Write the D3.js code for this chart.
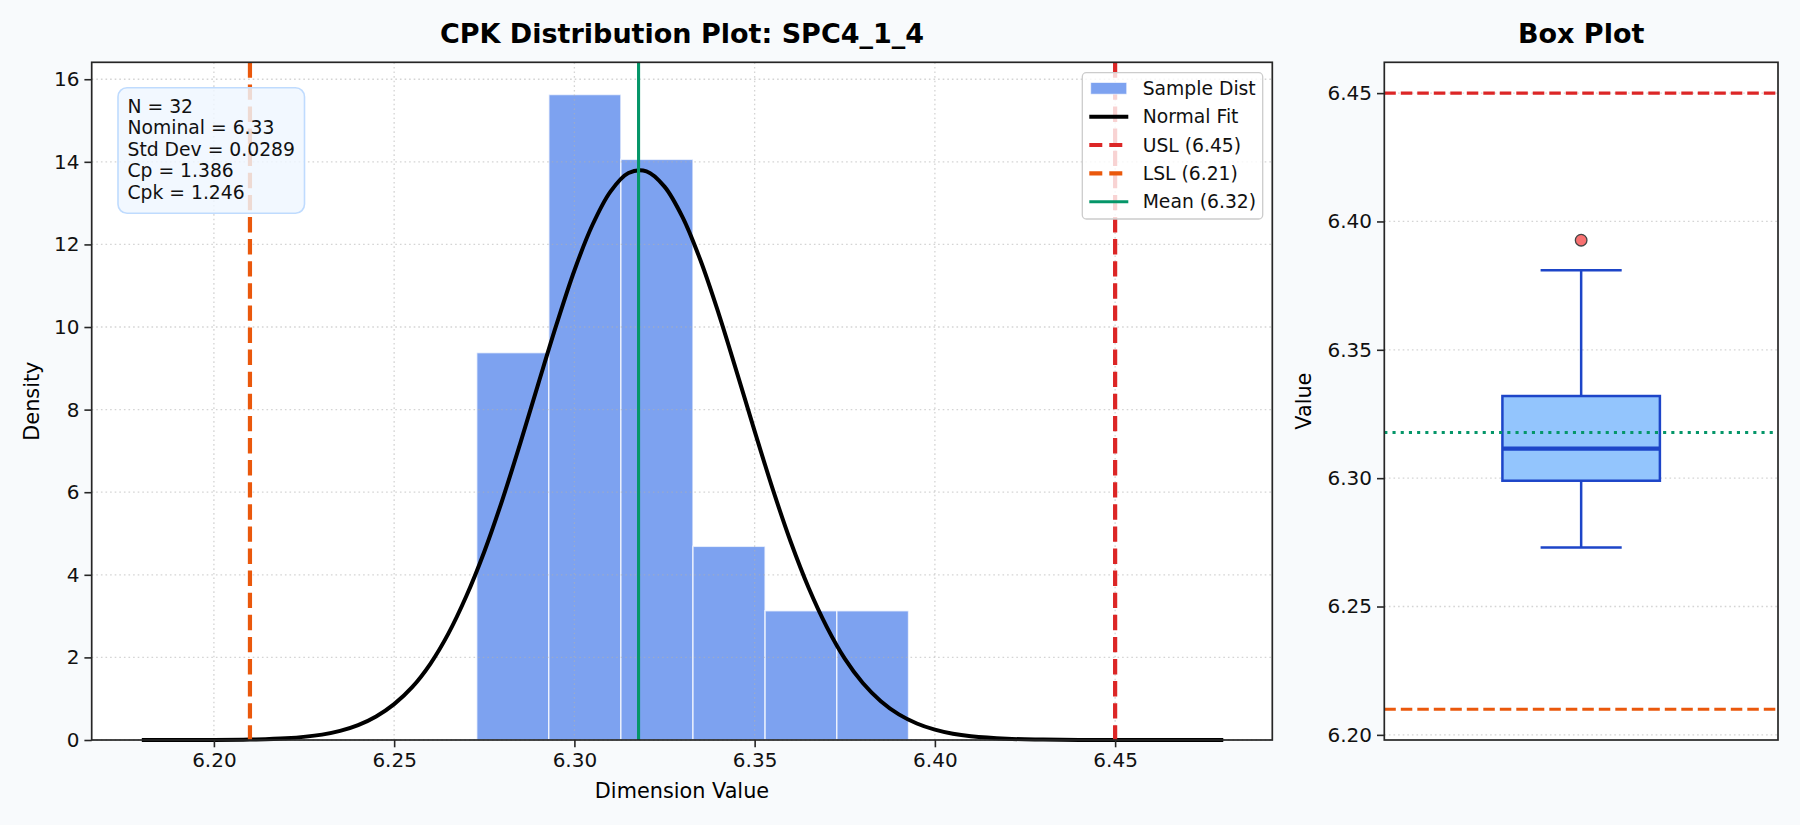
<!DOCTYPE html>
<html>
<head>
<meta charset="utf-8">
<script src="https://cdn.jsdelivr.net/npm/d3@7"></script>
<style>
  html, body { margin: 0; padding: 0; background: #f8fafc; }
  svg { display: block; font-family: "DejaVu Sans", sans-serif; }
</style>
</head>
<body>
<div id="chart"></div>
<script>
// ---- data ----
var binEdges = [6.2729, 6.2929, 6.3129, 6.3329, 6.3529, 6.3728, 6.3927];
var binDensity = [9.38, 15.63, 14.06, 4.69, 3.13, 3.13];

// normal fit curve, sampled densely so it stays smooth
var fitX = [6.18, 6.19, 6.20, 6.21, 6.22, 6.23, 6.235, 6.24, 6.245, 6.25, 6.255,
            6.26, 6.265, 6.27, 6.275, 6.28, 6.285, 6.29, 6.295, 6.30, 6.305,
            6.31, 6.315, 6.32, 6.325, 6.33, 6.335, 6.34, 6.345, 6.35, 6.355,
            6.36, 6.365, 6.37, 6.375, 6.38, 6.385, 6.39, 6.395, 6.40, 6.405,
            6.41, 6.42, 6.43, 6.44, 6.45, 6.46, 6.47, 6.48];
var fitY = [0.00, 0.00, 0.00, 0.01, 0.04, 0.13, 0.22, 0.36, 0.57, 0.87, 1.28,
            1.84, 2.57, 3.48, 4.56, 5.81, 7.19, 8.63, 10.05, 11.37, 12.47,
            13.28, 13.73, 13.77, 13.40, 12.66, 11.61, 10.33, 8.92, 7.48, 6.08,
            4.80, 3.68, 2.74, 1.97, 1.38, 0.94, 0.62, 0.40, 0.25, 0.15,
            0.09, 0.03, 0.01, 0.00, 0.00, 0.00, 0.00, 0.00];

var usl = 6.45, lsl = 6.21, meanValue = 6.3178;
var statLines = ["N = 32", "Nominal = 6.33", "Std Dev = 0.0289", "Cp = 1.386", "Cpk = 1.246"];

var boxQuartiles = [6.299, 6.3115, 6.332];   // q1, median, q3
var boxWhiskers = [6.273, 6.381];
var boxOutliers = [6.3927];

var xTicks = [6.20, 6.25, 6.30, 6.35, 6.40, 6.45];
var yTicks = [0, 2, 4, 6, 8, 10, 12, 14, 16];
var boxTicks = [6.20, 6.25, 6.30, 6.35, 6.40, 6.45];

// ---- layout ----
var width = 1800, height = 825;
var plotTop = 62.3, plotBottom = 740;
var main = {left: 91.7, right: 1272.3};
var side = {left: 1384.3, right: 1778};

var colors = {
  bar: '#7da2f0', fit: '#000000', usl: '#dc2626', lsl: '#ea580c',
  mean: '#059669', box: '#93c5fd', boxEdge: '#1d45c8', outlier: '#f87171'
};

var svg = d3.select('#chart').append('svg')
  .attr('width', width)
  .attr('height', height);

svg.append('rect')
  .attr('width', width).attr('height', height)
  .attr('fill', '#f8fafc');

var x = d3.scaleLinear().domain([6.1661, 6.4936]).range([main.left, main.right]);
var y = d3.scaleLinear().domain([0, 16.41]).range([plotBottom, plotTop]);
var by = d3.scaleLinear().domain([6.198, 6.462]).range([plotBottom, plotTop]);
var bx = d3.scaleLinear().domain([0.5, 1.5]).range([side.left, side.right]);

function gridStyle(sel) {
  sel.attr('stroke', '#b0b0b0').attr('stroke-opacity', 0.55)
    .attr('stroke-width', 1.3).attr('stroke-dasharray', '1.6,3');
}

// ================= main histogram panel =================
var g = svg.append('g');

g.append('rect')
  .attr('x', main.left).attr('y', plotTop)
  .attr('width', main.right - main.left).attr('height', plotBottom - plotTop)
  .attr('fill', '#ffffff');

g.selectAll('rect.bar')
  .data(binDensity)
  .enter().append('rect')
  .attr('class', 'bar')
  .attr('x', function(d, i) { return x(binEdges[i]); })
  .attr('width', function(d, i) { return x(binEdges[i + 1]) - x(binEdges[i]); })
  .attr('y', function(d) { return y(d); })
  .attr('height', function(d) { return y(0) - y(d); })
  .attr('fill', colors.bar)
  .attr('stroke', '#ffffff').attr('stroke-opacity', 0.7)
  .attr('stroke-width', 1.5);

// grid sits over the bars, under the lines
g.selectAll('line.vgrid').data(xTicks).enter().append('line')
  .attr('x1', function(d) { return x(d); }).attr('x2', function(d) { return x(d); })
  .attr('y1', plotTop).attr('y2', plotBottom)
  .call(gridStyle);
g.selectAll('line.hgrid').data(yTicks).enter().append('line')
  .attr('x1', main.left).attr('x2', main.right)
  .attr('y1', function(d) { return y(d); }).attr('y2', function(d) { return y(d); })
  .call(gridStyle);

var fitLine = d3.line()
  .x(function(d, i) { return x(fitX[i]); })
  .y(function(d) { return y(d); })
  .curve(d3.curveCatmullRom);

g.append('path')
  .datum(fitY)
  .attr('d', fitLine)
  .attr('fill', 'none')
  .attr('stroke', colors.fit)
  .attr('stroke-width', 4);

g.append('line')
  .attr('x1', x(usl)).attr('x2', x(usl)).attr('y1', plotTop).attr('y2', plotBottom)
  .attr('stroke', colors.usl).attr('stroke-width', 4.2)
  .attr('stroke-dasharray', '15.4,6.7');
g.append('line')
  .attr('x1', x(lsl)).attr('x2', x(lsl)).attr('y1', plotTop).attr('y2', plotBottom)
  .attr('stroke', colors.lsl).attr('stroke-width', 4.2)
  .attr('stroke-dasharray', '15.4,6.7');
g.append('line')
  .attr('x1', x(meanValue)).attr('x2', x(meanValue)).attr('y1', plotTop).attr('y2', plotBottom)
  .attr('stroke', colors.mean).attr('stroke-width', 3.1);

// axes
var xAxis = d3.axisBottom(x).tickValues(xTicks).tickFormat(d3.format('.2f'))
  .tickSize(7.3).tickPadding(5);
var yAxis = d3.axisLeft(y).tickValues(yTicks).tickFormat(d3.format('d'))
  .tickSize(7.3).tickPadding(5);

g.append('g').attr('transform', 'translate(0,' + plotBottom + ')').call(xAxis);
g.append('g').attr('transform', 'translate(' + main.left + ',0)').call(yAxis);

g.append('rect')
  .attr('x', main.left).attr('y', plotTop)
  .attr('width', main.right - main.left).attr('height', plotBottom - plotTop)
  .attr('fill', 'none').attr('stroke', '#262626').attr('stroke-width', 1.7);

// stats box
var stats = g.append('g');
stats.append('rect')
  .attr('x', 118).attr('y', 87.7)
  .attr('width', 186.5).attr('height', 125.5)
  .attr('rx', 9).attr('ry', 9)
  .attr('fill', '#eff6ff').attr('fill-opacity', 0.82)
  .attr('stroke', '#bfdbfe').attr('stroke-width', 1.6);
stats.append('text')
  .attr('font-size', 18.75)
  .attr('fill', '#111')
  .selectAll('tspan')
  .data(statLines)
  .enter().append('tspan')
  .attr('x', 127.5)
  .attr('y', function(d, i) { return 112.5 + i * 21.6; })
  .text(function(d) { return d; });

// legend
var legendItems = [
  {label: 'Sample Dist', type: 'patch', color: colors.bar},
  {label: 'Normal Fit', type: 'line', color: colors.fit, w: 4, dash: null},
  {label: 'USL (6.45)', type: 'line', color: colors.usl, w: 4.2, dash: '13,7'},
  {label: 'LSL (6.21)', type: 'line', color: colors.lsl, w: 4.2, dash: '13,7'},
  {label: 'Mean (6.32)', type: 'line', color: colors.mean, w: 3.1, dash: null}
];
var leg = g.append('g');
leg.append('rect')
  .attr('x', 1082.3).attr('y', 72.7)
  .attr('width', 180.4).attr('height', 146.3)
  .attr('rx', 4).attr('ry', 4)
  .attr('fill', '#ffffff').attr('fill-opacity', 0.8)
  .attr('stroke', '#cccccc').attr('stroke-width', 1.3);
var rows = leg.selectAll('g.row').data(legendItems).enter().append('g')
  .attr('transform', function(d, i) { return 'translate(0,' + (88.3 + i * 28.35) + ')'; });
rows.each(function(d) {
  var r = d3.select(this);
  if (d.type === 'patch') {
    r.append('rect')
      .attr('x', 1090.7).attr('y', -5.8).attr('width', 36).attr('height', 11.7)
      .attr('fill', d.color).attr('stroke', '#ffffff').attr('stroke-opacity', 0.6);
  } else {
    r.append('line')
      .attr('x1', 1089.3).attr('x2', 1128.3).attr('y1', 0).attr('y2', 0)
      .attr('stroke', d.color).attr('stroke-width', d.w)
      .attr('stroke-dasharray', d.dash);
  }
  r.append('text')
    .attr('x', 1142.7).attr('y', 6.6)
    .attr('font-size', 18.75).attr('fill', '#111')
    .text(d.label);
});

// titles & labels
svg.append('text')
  .attr('x', (main.left + main.right) / 2).attr('y', 43)
  .attr('text-anchor', 'middle')
  .attr('font-size', 27).attr('font-weight', 'bold')
  .text('CPK Distribution Plot: SPC4_1_4');
svg.append('text')
  .attr('x', (main.left + main.right) / 2).attr('y', 798)
  .attr('text-anchor', 'middle').attr('font-size', 20.8)
  .text('Dimension Value');
svg.append('text')
  .attr('transform', 'translate(38.5,' + ((plotTop + plotBottom) / 2) + ') rotate(-90)')
  .attr('text-anchor', 'middle').attr('font-size', 20.8)
  .text('Density');

// ================= box plot panel =================
var b = svg.append('g');

b.append('rect')
  .attr('x', side.left).attr('y', plotTop)
  .attr('width', side.right - side.left).attr('height', plotBottom - plotTop)
  .attr('fill', '#ffffff');

b.selectAll('line.hgrid').data(boxTicks).enter().append('line')
  .attr('x1', side.left).attr('x2', side.right)
  .attr('y1', function(d) { return by(d); }).attr('y2', function(d) { return by(d); })
  .call(gridStyle);

b.append('line')
  .attr('x1', side.left).attr('x2', side.right).attr('y1', by(usl)).attr('y2', by(usl))
  .attr('stroke', colors.usl).attr('stroke-width', 3.1)
  .attr('stroke-dasharray', '11.5,5');
b.append('line')
  .attr('x1', side.left).attr('x2', side.right).attr('y1', by(lsl)).attr('y2', by(lsl))
  .attr('stroke', colors.lsl).attr('stroke-width', 3.1)
  .attr('stroke-dasharray', '11.5,5');

// whiskers and caps
b.selectAll('line.whisker').data(boxWhiskers).enter().append('line')
  .attr('x1', bx(1)).attr('x2', bx(1))
  .attr('y1', function(d) { return by(d); })
  .attr('y2', function(d, i) { return by(i === 0 ? boxQuartiles[0] : boxQuartiles[2]); })
  .attr('stroke', colors.boxEdge).attr('stroke-width', 2.5);
b.selectAll('line.cap').data(boxWhiskers).enter().append('line')
  .attr('x1', bx(0.897)).attr('x2', bx(1.103))
  .attr('y1', function(d) { return by(d); }).attr('y2', function(d) { return by(d); })
  .attr('stroke', colors.boxEdge).attr('stroke-width', 2.5);

b.append('rect')
  .attr('x', bx(0.8)).attr('width', bx(1.2) - bx(0.8))
  .attr('y', by(boxQuartiles[2]))
  .attr('height', by(boxQuartiles[0]) - by(boxQuartiles[2]))
  .attr('fill', colors.box)
  .attr('stroke', colors.boxEdge).attr('stroke-width', 2.5);

b.append('line')
  .attr('x1', side.left).attr('x2', side.right)
  .attr('y1', by(meanValue)).attr('y2', by(meanValue))
  .attr('stroke', colors.mean).attr('stroke-width', 3.1)
  .attr('stroke-dasharray', '3.1,5.1');

b.append('line')
  .attr('x1', bx(0.8)).attr('x2', bx(1.2))
  .attr('y1', by(boxQuartiles[1])).attr('y2', by(boxQuartiles[1]))
  .attr('stroke', colors.boxEdge).attr('stroke-width', 4.2);

b.selectAll('circle.outlier').data(boxOutliers).enter().append('circle')
  .attr('cx', bx(1)).attr('cy', function(d) { return by(d); })
  .attr('r', 5.8)
  .attr('fill', colors.outlier)
  .attr('stroke', '#444').attr('stroke-width', 1.3);

var boxAxis = d3.axisLeft(by).tickValues(boxTicks).tickFormat(d3.format('.2f'))
  .tickSize(7.3).tickPadding(5);
b.append('g').attr('transform', 'translate(' + side.left + ',0)').call(boxAxis);

b.append('rect')
  .attr('x', side.left).attr('y', plotTop)
  .attr('width', side.right - side.left).attr('height', plotBottom - plotTop)
  .attr('fill', 'none').attr('stroke', '#262626').attr('stroke-width', 1.7);

svg.append('text')
  .attr('x', (side.left + side.right) / 2).attr('y', 43)
  .attr('text-anchor', 'middle')
  .attr('font-size', 27).attr('font-weight', 'bold')
  .text('Box Plot');
svg.append('text')
  .attr('transform', 'translate(1311,' + ((plotTop + plotBottom) / 2) + ') rotate(-90)')
  .attr('text-anchor', 'middle').attr('font-size', 20.8)
  .text('Value');

// tidy axis styling to look like the reference
svg.selectAll('.domain').remove();
svg.selectAll('.tick line').attr('stroke', '#262626').attr('stroke-width', 1.6);
svg.selectAll('.tick text')
  .attr('font-size', 20)
  .attr('font-family', '"DejaVu Sans", sans-serif')
  .attr('fill', '#111');
</script>
</body>
</html>
